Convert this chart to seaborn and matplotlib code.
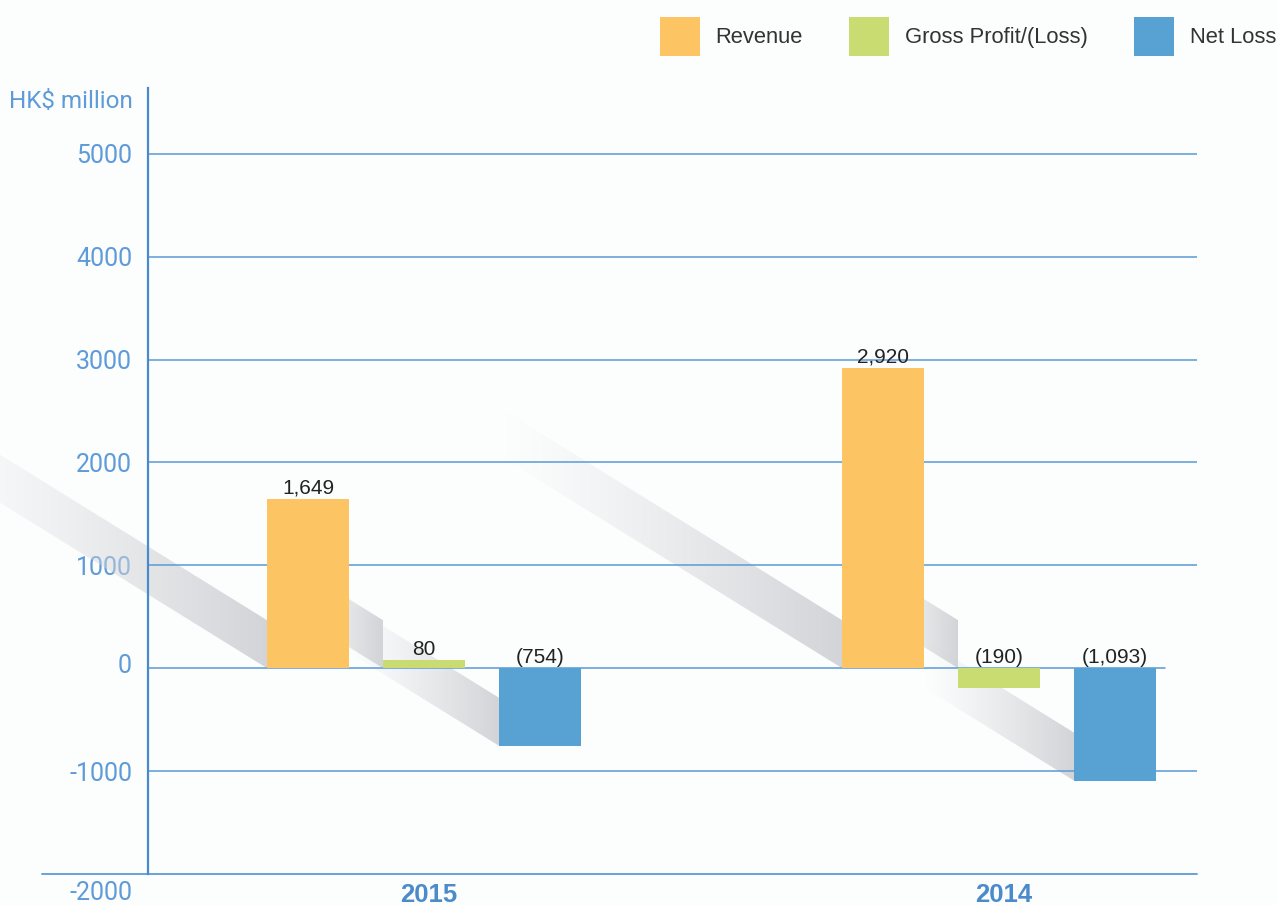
import numpy as np
import pandas as pd
import matplotlib
matplotlib.use("Agg")
import matplotlib.pyplot as plt
import seaborn as sns
from matplotlib.patches import Polygon, Patch
from matplotlib.transforms import ScaledTranslation

# ---------------- data ----------------
years = ["2015", "2014"]
series_names = ["Revenue", "Gross Profit/(Loss)", "Net Loss"]
revenue = [1649, 2920]
gross_profit = [80, -190]
net_loss = [-754, -1093]
y_ticks = [-2000, -1000, 0, 1000, 2000, 3000, 4000, 5000]
y_unit = "HK$ million"

colors = ["#FDC463", "#C8DC72", "#58A1D3"]
series_values = [revenue, gross_profit, net_loss]

rows = []
for name, vals in zip(series_names, series_values):
    for yr, v in zip(years, vals):
        rows.append({"year": yr, "series": name, "value": v})
df = pd.DataFrame(rows)


def fmt(v):
    return f"{v:,}" if v >= 0 else f"({-v:,})"


# ---------------- style ----------------
sns.set_theme(style="white")
plt.rcParams["font.family"] = ["Liberation Sans", "DejaVu Sans"]

W, H = 1277, 905
BG = "#fcfdfd"
fig = plt.figure(figsize=(W / 100, H / 100), dpi=100, facecolor=BG)
ax = fig.add_axes([148 / W, 1 - 874 / H, (1197 - 148) / W, (874 - 88) / H])
ax.set_facecolor(BG)

sns.barplot(data=df, x="year", y="value", hue="series", order=years,
            hue_order=series_names, palette=colors, saturation=1,
            width=0.605, gap=0.293, errorbar=None, ax=ax, zorder=3,
            linewidth=0)
if ax.get_legend() is not None:
    ax.get_legend().remove()

XL = (-0.48, 1.344)
YL = (-2000, 5640)
ax.set_xlim(*XL)
ax.set_ylim(*YL)

# ---------------- gridlines ----------------
grid_c = "#5B9BD5"
for t in y_ticks:
    if t == 0:
        ax.axhline(t, xmin=0, xmax=(1165 - 148) / (1197 - 148), color=grid_c, lw=1.1, zorder=2)
    elif t == y_ticks[0]:
        ax.axhline(t, xmin=-106 / 1049, xmax=1, color=grid_c, lw=1.3, zorder=2, clip_on=False)
    else:
        ax.axhline(t, xmin=0, xmax=1, color=grid_c, lw=1.1, zorder=2)

# ---------------- shadows (derived from bar geometry) ----------------
fig.canvas.draw()
shadow_len = [340, 90, 150]       # px, per series
shadow_at_zero = [False, True, False]
slope = 0.62
thick = 48
gray = np.array([0.83, 0.835, 0.85])
grad = np.zeros((2, 256, 4))
grad[..., :3] = gray
grad[..., 3] = np.linspace(0, 1, 256) ** 1.2
to_disp = ax.transData
to_data = ax.transData.inverted()
for ci, cont in enumerate(ax.containers):
    L = shadow_len[ci]
    for p in cont:
        bx = p.get_x()
        by = 0 if shadow_at_zero[ci] else min(p.get_y(), p.get_y() + p.get_height())
        dx, dy = to_disp.transform((bx, by))
        pts_disp = np.array([
            (dx, dy),
            (dx, dy + thick),
            (dx - L, dy + thick + slope * L),
            (dx - L, dy + slope * L),
        ])
        pts = to_data.transform(pts_disp)
        poly = Polygon(pts, closed=True, transform=ax.transData, facecolor="none", edgecolor="none")
        xs, ys = pts[:, 0], pts[:, 1]
        im = ax.imshow(grad, extent=[xs.min(), xs.max(), ys.min(), ys.max()],
                       aspect="auto", zorder=1, interpolation="bilinear")
        im.set_clip_box(fig.bbox)
        im.set_clip_path(poly)

ax.set_xlim(*XL)
ax.set_ylim(*YL)

# ---------------- bar labels ----------------
for ci, cont in enumerate(ax.containers):
    for p, v in zip(cont, series_values[ci]):
        cx = p.get_x() + p.get_width() / 2
        ax.annotate(fmt(v), xy=(cx, max(0, v)), xytext=(0, 3.5), textcoords="offset points",
                    ha="center", va="baseline", fontsize=15, color="#222222", zorder=5)

# ---------------- axes styling ----------------
for s in ["top", "right", "bottom"]:
    ax.spines[s].set_visible(False)
ax.spines["left"].set_color("#4A8ACB")
ax.spines["left"].set_linewidth(1.6)
ax.spines["left"].set_zorder(4)

tick_c = "#5E9BD8"
tick_fam = ["Roboto", "Liberation Sans", "DejaVu Sans"]
ax.set_yticks(y_ticks)
ax.set_yticklabels([str(t) for t in y_ticks])
ax.tick_params(axis="y", length=0, pad=11.5, labelsize=18, labelcolor=tick_c)
for lab in ax.get_yticklabels():
    lab.set_family(tick_fam)
    lab.set_fontweight("normal")
for lab, t in zip(ax.get_yticklabels(), y_ticks):
    if t == y_ticks[0]:
        lab.set_transform(lab.get_transform() + ScaledTranslation(0, -16 / 100, fig.dpi_scale_trans))
    elif t == 0:
        lab.set_transform(lab.get_transform() + ScaledTranslation(0, 5 / 100, fig.dpi_scale_trans))

ax.set_xticks(range(len(years)))
ax.set_xticklabels(years)
ax.tick_params(axis="x", length=0, pad=6.5, labelsize=18.5, labelcolor="#4B8BCB")
for lab in ax.get_xticklabels():
    lab.set_fontweight("bold")
    lab.set_transform(lab.get_transform() + ScaledTranslation(5 / 100, 0, fig.dpi_scale_trans))
ax.set_xlabel("")
ax.set_ylabel("")

ax.annotate(y_unit, xy=(0, 1), xycoords="axes fraction", xytext=(-11, -9.5),
            textcoords="offset points", ha="right", va="center", fontsize=17.5,
            color=tick_c, family=tick_fam, fontweight="normal", annotation_clip=False)

# ---------------- legend ----------------
handles = [Patch(facecolor=c, edgecolor="none") for c in colors]
leg = fig.legend(handles, series_names, loc="upper right",
                 bbox_to_anchor=(1276 / W, 1 - 17 / H), ncol=3, frameon=False,
                 fontsize=15.8, handlelength=1.82, handleheight=2.35,
                 handletextpad=0.72, columnspacing=2.1, borderpad=0,
                 borderaxespad=0)
for t in leg.get_texts():
    t.set_color("#333333")

fig.savefig("out.png", dpi=100, facecolor=BG)
